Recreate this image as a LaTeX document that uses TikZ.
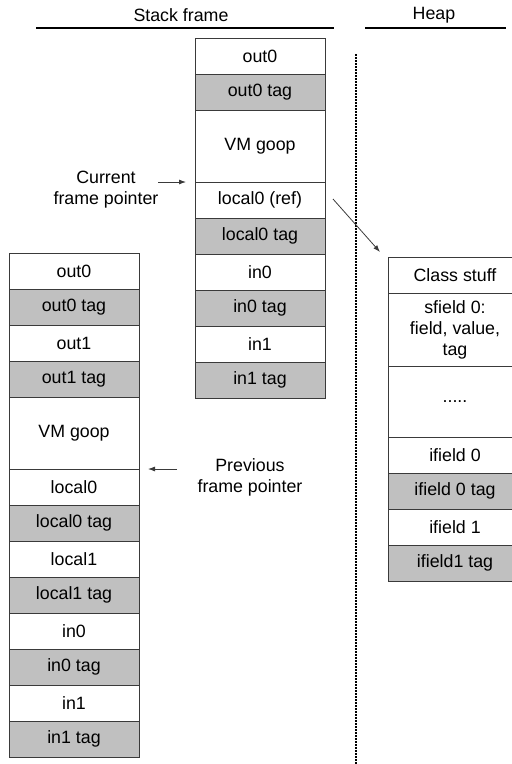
\documentclass[tikz,border=0pt]{standalone}
\usepackage{fontspec}
\setmainfont{Liberation Sans}
\usetikzlibrary{arrows.meta,positioning}
\definecolor{ink}{HTML}{000000}
\definecolor{rule}{HTML}{3A3A3A}
\definecolor{tagfill}{HTML}{C0C0C0}
\newcommand{\lbl}{\fontsize{17.8}{21}\selectfont}
\tikzset{
  slot/.style={draw=rule,fill=white,line width=0.9pt,minimum width=130pt,minimum height=36pt,
               inner sep=0pt,outer sep=0pt,align=center,text=ink,font=\lbl},
  tagslot/.style={slot,fill=tagfill},
  bigslot/.style={slot,minimum height=72pt},
  heapslot/.style={slot,minimum width=134pt},
  ptr/.style={-{Latex[length=7pt,width=5pt]},line width=0.8pt,draw=rule},
  headrule/.style={line width=1.6pt,draw=ink},
  divider/.style={line width=1.8pt,draw=ink,dash pattern=on 2pt off 1pt},
  note/.style={align=center,text=ink,font=\lbl,inner sep=0pt}
}

\begin{document}
\begin{tikzpicture}[x=1pt,y=-1pt]
  \useasboundingbox (0,0) rectangle (512,764);
  % headers
  \node[note] (hdstack) at (181,15) {Stack frame};
  \node[note] (hdheap) at (434,15) {Heap};
  \draw[headrule] (36,28) -- (334,28);
  \draw[headrule] (365,28) -- (506,28);
  \draw[divider] (356,54) -- (356,764);

  % current frame
  \node[slot,anchor=north] (c0) at (260,38) {out0};
  \node[tagslot,below=0pt of c0] (c1) {out0 tag};
  \node[bigslot,below=0pt of c1] (c2) {VM goop};
  \node[slot,below=0pt of c2] (c3) {local0 (ref)};
  \node[tagslot,below=0pt of c3] (c4) {local0 tag};
  \node[slot,below=0pt of c4] (c5) {in0};
  \node[tagslot,below=0pt of c5] (c6) {in0 tag};
  \node[slot,below=0pt of c6] (c7) {in1};
  \node[tagslot,below=0pt of c7] (c8) {in1 tag};

  % previous frame
  \node[slot,anchor=north] (p0) at (74,253) {out0};
  \node[tagslot,below=0pt of p0] (p1) {out0 tag};
  \node[slot,below=0pt of p1] (p2) {out1};
  \node[tagslot,below=0pt of p2] (p3) {out1 tag};
  \node[bigslot,below=0pt of p3] (p4) {VM goop};
  \node[slot,below=0pt of p4] (p5) {local0};
  \node[tagslot,below=0pt of p5] (p6) {local0 tag};
  \node[slot,below=0pt of p6] (p7) {local1};
  \node[tagslot,below=0pt of p7] (p8) {local1 tag};
  \node[slot,below=0pt of p8] (p9) {in0};
  \node[tagslot,below=0pt of p9] (p10) {in0 tag};
  \node[slot,below=0pt of p10] (p11) {in1};
  \node[tagslot,below=0pt of p11] (p12) {in1 tag};

  % heap object
  \node[heapslot,anchor=north] (h0) at (455,257) {Class stuff};
  \node[heapslot,below=0pt of h0,minimum height=73pt] (h1) {sfield 0:\\field, value,\\tag};
  \node[heapslot,below=0pt of h1,minimum height=71pt] (h2) {.....};
  \node[heapslot,below=0pt of h2] (h3) {ifield 0};
  \node[heapslot,below=0pt of h3,fill=tagfill] (h4) {ifield 0 tag};
  \node[heapslot,below=0pt of h4] (h5) {ifield 1};
  \node[heapslot,below=0pt of h5,fill=tagfill] (h6) {ifield1 tag};

  % pointers
  \node[note] (curfp) at (106,190) {Current\\frame pointer};
  \node[note] (prevfp) at (250,477) {Previous\\frame pointer};
  \draw[ptr] ([xshift=-37pt]c3.north west) -- ([xshift=-9pt]c3.north west);
  \draw[ptr] ([xshift=38pt]p5.north east) -- ([xshift=9pt]p5.north east);
  \draw[ptr] ([xshift=8pt,yshift=1pt]c3.east) -- ([xshift=-8pt,yshift=5pt]h0.north west);
\end{tikzpicture}
\end{document}
